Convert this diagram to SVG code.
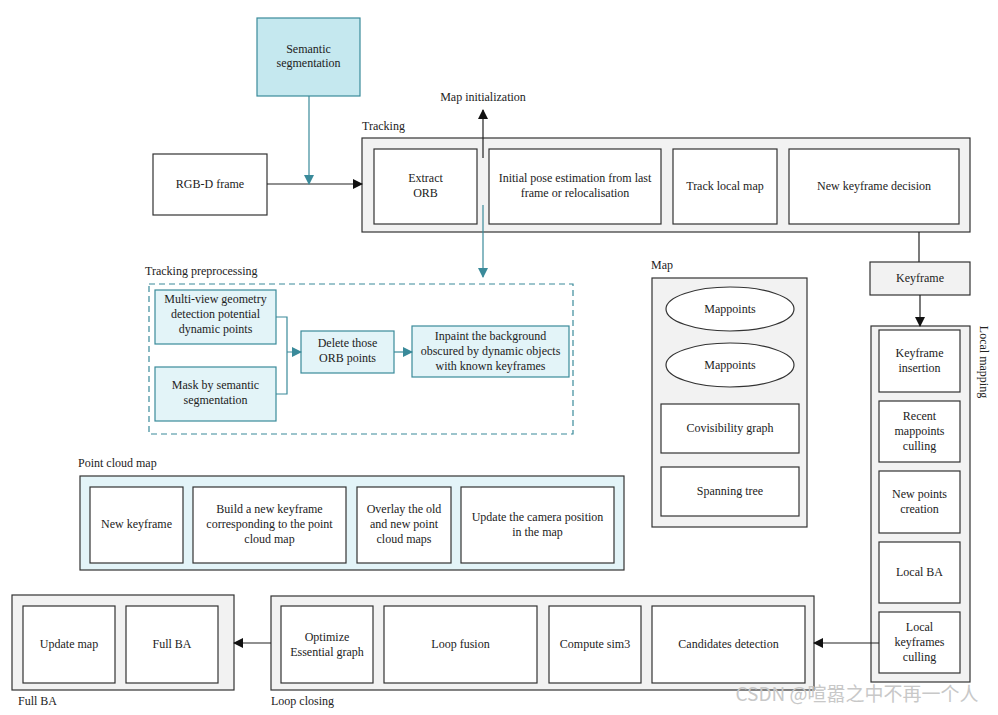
<svg xmlns="http://www.w3.org/2000/svg" width="998" height="715" viewBox="0 0 998 715">
<defs>
<style>
text{font-family:"Liberation Serif","Times New Roman",serif;font-size:12px;fill:#222;text-anchor:middle}
.lbl{text-anchor:start;font-size:12px}
.cont{fill:#f2f2f2;stroke:#333;stroke-width:1.2}
.box{fill:#fff;stroke:#333;stroke-width:1.2}
.tbox{fill:#e3f4f8;stroke:#3a8a9a;stroke-width:1.2}
.ln{fill:none;stroke:#222;stroke-width:1.2}
.tl{fill:none;stroke:#3a8a9a;stroke-width:1.2}
</style>
<marker id="ab" viewBox="0 0 10 10" refX="9" refY="5" markerWidth="10" markerHeight="10" markerUnits="userSpaceOnUse" orient="auto"><path d="M0,0L10,5L0,10z" fill="#111"/></marker>
<marker id="at" viewBox="0 0 10 10" refX="9" refY="5" markerWidth="10" markerHeight="10" markerUnits="userSpaceOnUse" orient="auto"><path d="M0,0L10,5L0,10z" fill="#3a8a9a"/></marker>
</defs>
<rect width="998" height="715" fill="#fff"/>

<g id="semantic"><rect x="257" y="18" width="103" height="78" fill="#c5e8ef" stroke="#3a8a9a" stroke-width="1.2"/><text x="308.5" y="53">Semantic</text><text x="308.5" y="67">segmentation</text></g>
<g id="rgbd"><rect class="box" x="153" y="154" width="114" height="61"/><text x="210" y="188">RGB-D frame</text></g>

<g id="tracking"><text class="lbl" x="362" y="130">Tracking</text><rect class="cont" x="362" y="138" width="608" height="94"/>
<g id="extract"><rect class="box" x="374" y="149" width="103" height="75"/><text x="425.5" y="182">Extract</text><text x="425.5" y="197">ORB</text></g>
<g id="initpose"><rect class="box" x="489" y="149" width="172" height="75"/><text x="575" y="182">Initial pose estimation from last</text><text x="575" y="197">frame or relocalisation</text></g>
<g id="tracklocal"><rect class="box" x="673" y="149" width="104" height="75"/><text x="725" y="190">Track local map</text></g>
<g id="newkfdec"><rect class="box" x="789" y="149" width="170" height="75"/><text x="874" y="190">New keyframe decision</text></g>
</g>
<g id="mapinit"><text x="483" y="101">Map initialization</text></g>

<g id="preproc"><text class="lbl" x="145" y="275">Tracking preprocessing</text><rect x="149" y="284" width="424" height="150" fill="none" stroke="#3a8a9a" stroke-width="1.2" stroke-dasharray="6,4"/>
<g id="multiview"><rect class="tbox" x="155" y="290" width="121" height="54"/><text x="215.5" y="303">Multi-view geometry</text><text x="215.5" y="318">detection potential</text><text x="215.5" y="333">dynamic points</text></g>
<g id="mask"><rect class="tbox" x="155" y="367" width="121" height="54"/><text x="215.5" y="389">Mask by semantic</text><text x="215.5" y="404">segmentation</text></g>
<g id="delete"><rect class="tbox" x="301" y="331" width="93" height="42"/><text x="347.5" y="347">Delete those</text><text x="347.5" y="362">ORB points</text></g>
<g id="inpaint"><rect class="tbox" x="412" y="326" width="157" height="51"/><text x="490.5" y="340">Inpaint the background</text><text x="490.5" y="355">obscured by dynamic objects</text><text x="490.5" y="370">with known keyframes</text></g>
</g>

<g id="map"><text class="lbl" x="651" y="269">Map</text><rect class="cont" x="652" y="278" width="155" height="249"/>
<g id="mp1"><ellipse cx="730" cy="309" rx="64" ry="22" fill="#fff" stroke="#333" stroke-width="1.2"/><text x="730" y="313">Mappoints</text></g>
<g id="mp2"><ellipse cx="730" cy="365" rx="64" ry="22" fill="#fff" stroke="#333" stroke-width="1.2"/><text x="730" y="369">Mappoints</text></g>
<g id="covis"><rect class="box" x="661" y="404" width="138" height="49"/><text x="730" y="432">Covisibility graph</text></g>
<g id="span"><rect class="box" x="661" y="467" width="138" height="49"/><text x="730" y="495">Spanning tree</text></g>
</g>

<g id="keyframe"><rect class="cont" x="870" y="262" width="100" height="33"/><text x="920" y="282">Keyframe</text></g>

<g id="localmapping"><rect class="cont" x="871" y="326" width="99" height="356"/><text x="0" y="0" transform="translate(980,362) rotate(90)">Local mapping</text>
<g id="kfins"><rect class="box" x="879" y="330" width="81" height="62"/><text x="919.5" y="357">Keyframe</text><text x="919.5" y="372">insertion</text></g>
<g id="recent"><rect class="box" x="879" y="401" width="81" height="61"/><text x="919.5" y="420">Recent</text><text x="919.5" y="435">mappoints</text><text x="919.5" y="450">culling</text></g>
<g id="newpts"><rect class="box" x="879" y="471" width="81" height="62"/><text x="919.5" y="498">New points</text><text x="919.5" y="513">creation</text></g>
<g id="localba"><rect class="box" x="879" y="542" width="81" height="61"/><text x="919.5" y="576">Local BA</text></g>
<g id="lkfcull"><rect class="box" x="879" y="612" width="81" height="61"/><text x="919.5" y="631">Local</text><text x="919.5" y="646">keyframes</text><text x="919.5" y="661">culling</text></g>
</g>

<g id="pointcloud"><text class="lbl" x="78" y="467">Point cloud map</text><rect x="80" y="476" width="544" height="94" fill="#e3f4f8" stroke="#333" stroke-width="1.2"/>
<g id="pcnewkf"><rect class="box" x="90" y="487" width="93" height="76"/><text x="136.5" y="528">New keyframe</text></g>
<g id="pcbuild"><rect class="box" x="193" y="487" width="153" height="76"/><text x="269.5" y="513">Build a new keyframe</text><text x="269.5" y="528">corresponding to the point</text><text x="269.5" y="543">cloud map</text></g>
<g id="pcoverlay"><rect class="box" x="357" y="487" width="94" height="76"/><text x="404" y="513">Overlay the old</text><text x="404" y="528">and new point</text><text x="404" y="543">cloud maps</text></g>
<g id="pcupdate"><rect class="box" x="461" y="487" width="153" height="76"/><text x="537.5" y="521">Update the camera position</text><text x="537.5" y="536">in the map</text></g>
</g>

<g id="loopclosing"><rect class="cont" x="271" y="596" width="543" height="94"/><text class="lbl" x="271" y="705">Loop closing</text>
<g id="optimize"><rect class="box" x="281" y="606" width="92" height="77"/><text x="327" y="641">Optimize</text><text x="327" y="656">Essential graph</text></g>
<g id="loopfusion"><rect class="box" x="384" y="606" width="153" height="77"/><text x="460.5" y="648">Loop fusion</text></g>
<g id="sim3"><rect class="box" x="549" y="606" width="92" height="77"/><text x="595" y="648">Compute sim3</text></g>
<g id="candidates"><rect class="box" x="652" y="606" width="153" height="77"/><text x="728.5" y="648">Candidates detection</text></g>
</g>

<g id="fullba"><rect class="cont" x="12" y="595" width="222" height="95"/><text class="lbl" x="18" y="705">Full BA</text>
<g id="updatemap"><rect class="box" x="23" y="606" width="92" height="77"/><text x="69" y="648">Update map</text></g>
<g id="fullbabox"><rect class="box" x="126" y="606" width="92" height="77"/><text x="172" y="648">Full BA</text></g>
</g>

<g id="connectors">
<path class="ln" d="M267,184H362" marker-end="url(#ab)"/>
<path class="tl" d="M309,96V184" marker-end="url(#at)"/>
<path class="ln" d="M483,158V110" marker-end="url(#ab)"/>
<path class="tl" d="M483,205V277" marker-end="url(#at)"/>
<path class="tl" d="M276,317H287V394H276M287,352H301" marker-end="url(#at)"/>
<path class="tl" d="M394,352H412" marker-end="url(#at)"/>
<path class="ln" d="M919,232V262"/>
<path class="ln" d="M920,295V326" marker-end="url(#ab)"/>
<path class="ln" d="M879,643H814" marker-end="url(#ab)"/>
<path class="ln" d="M271,643H234" marker-end="url(#ab)"/>
</g>

<text x="857" y="701" style="font-family:'Noto Sans CJK SC','DejaVu Sans',sans-serif;font-size:19px;fill:#c8c8c8">CSDN @喧嚣之中不再一个人</text>
</svg>
